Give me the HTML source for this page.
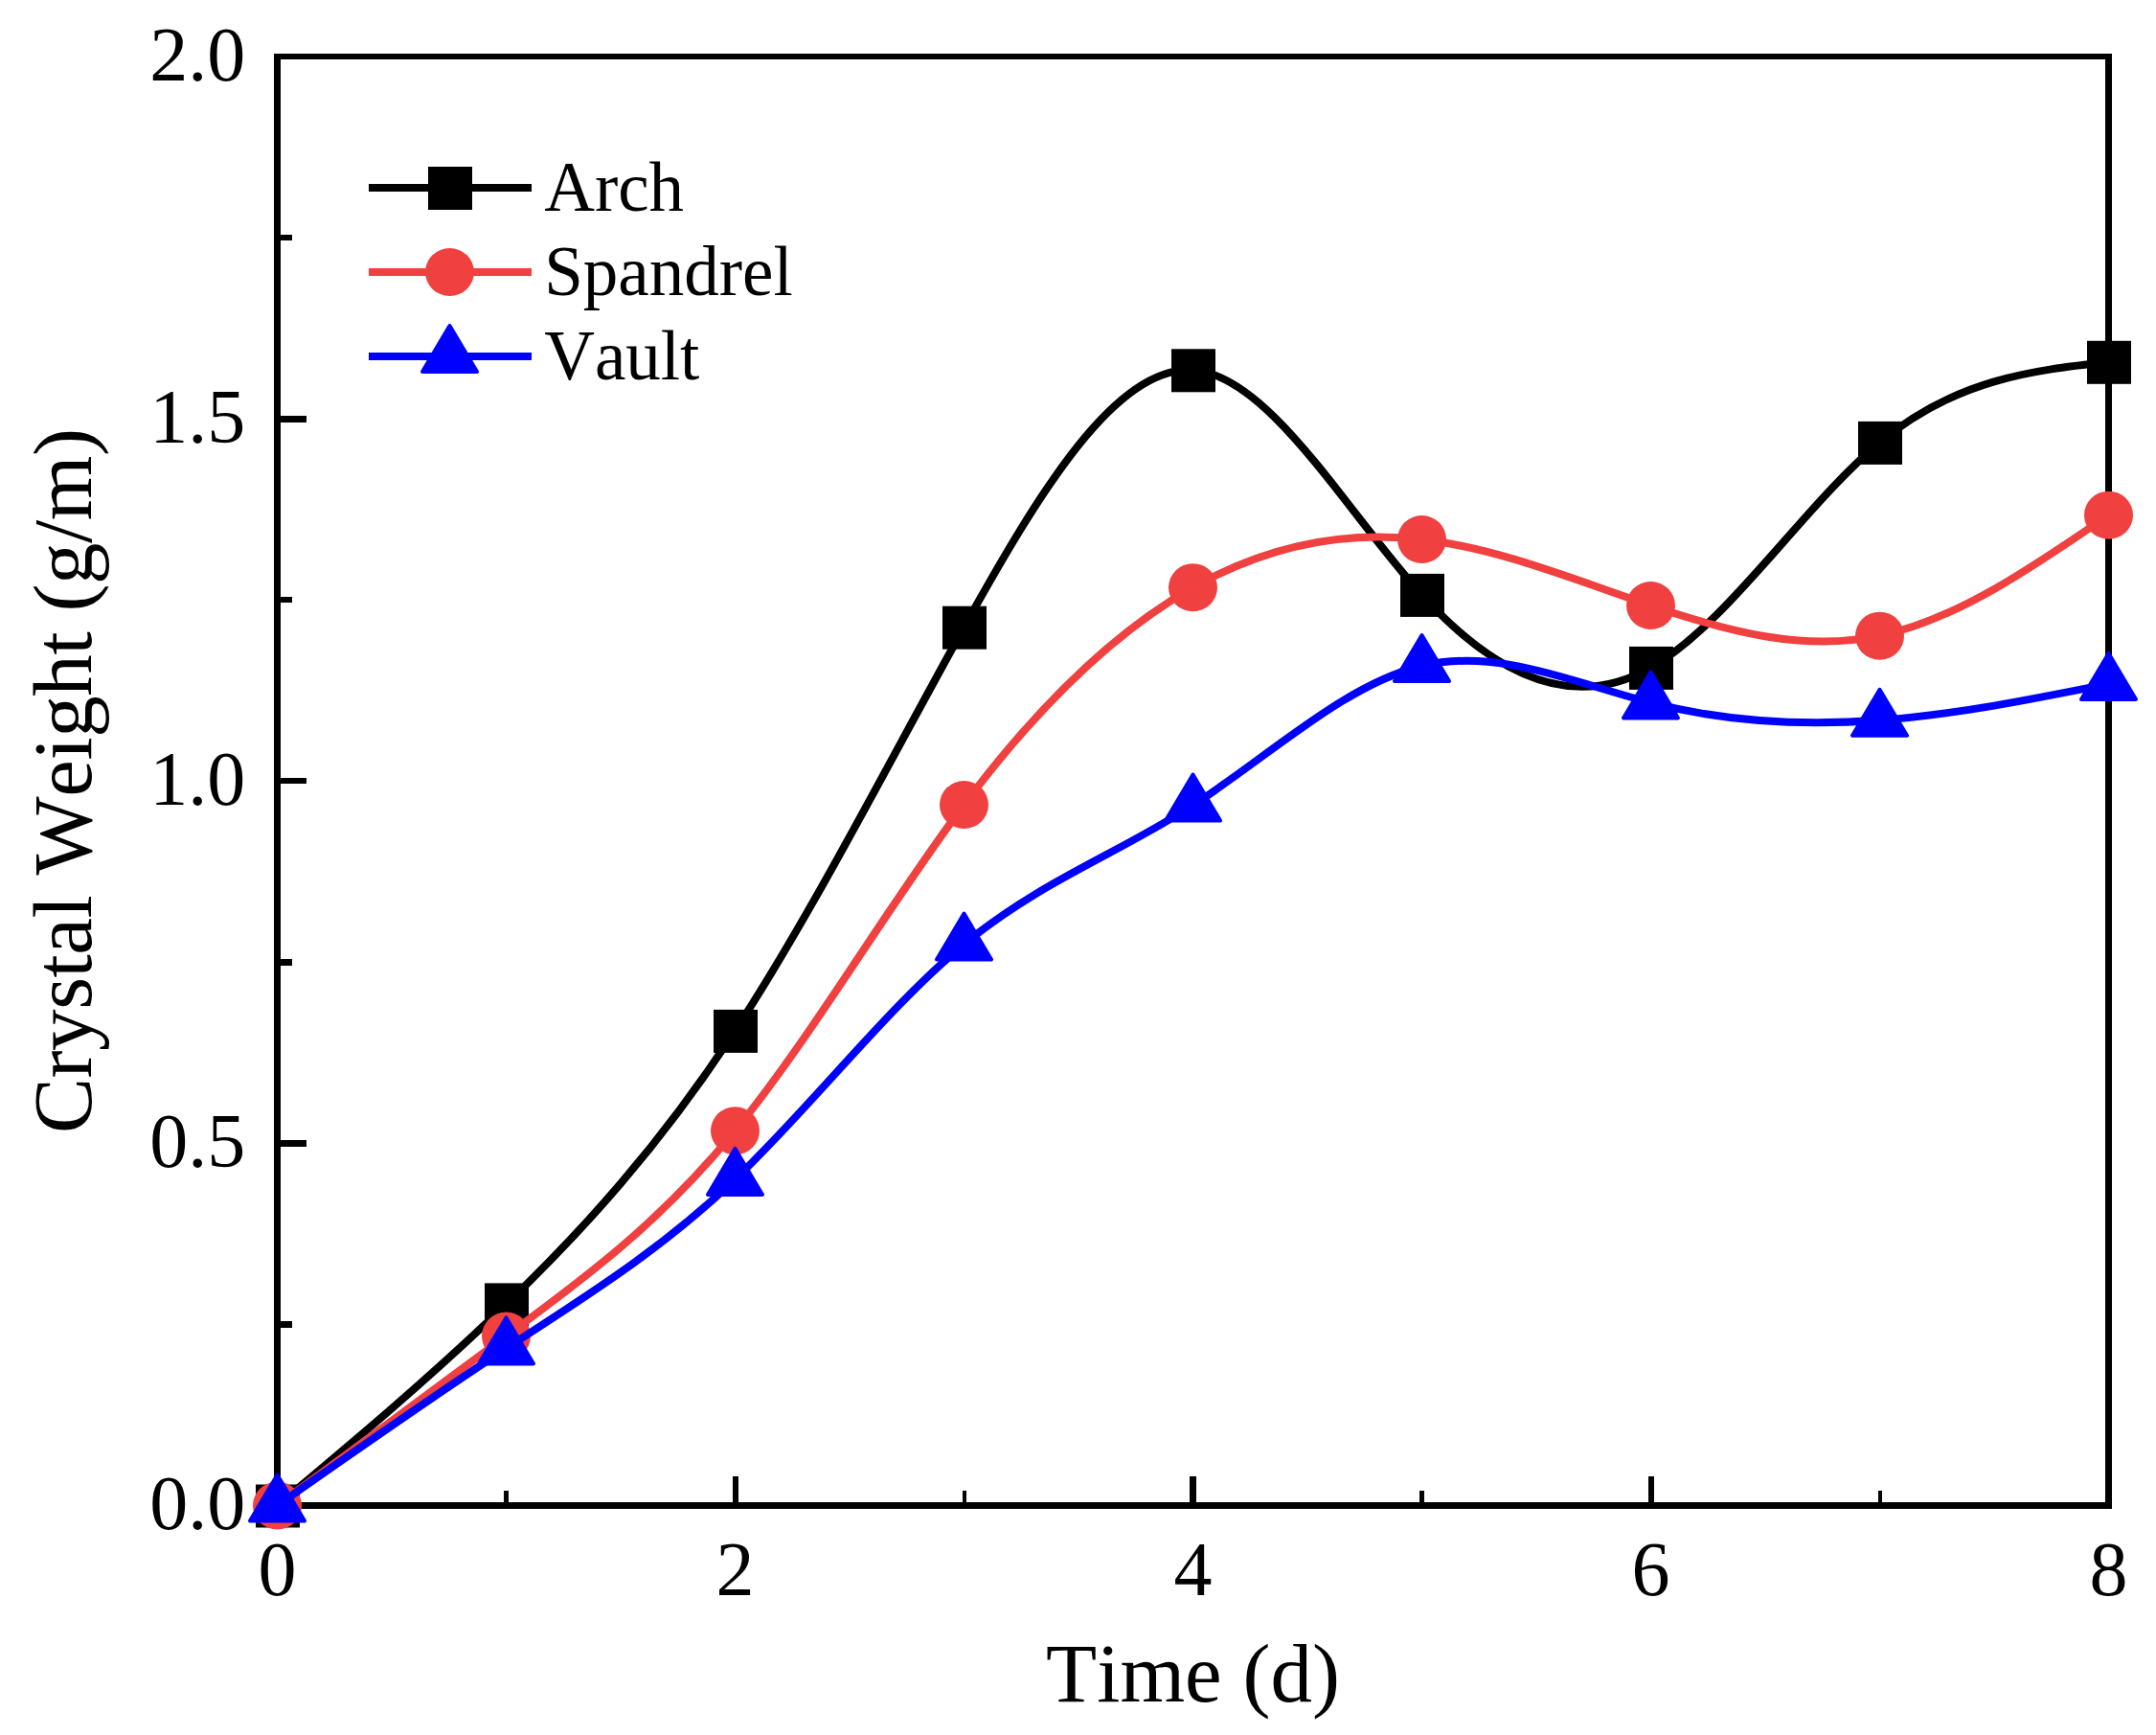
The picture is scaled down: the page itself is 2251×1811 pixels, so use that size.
<!DOCTYPE html>
<html lang="en"><head><meta charset="utf-8"><title>Crystal Weight vs Time</title>
<style>html,body{margin:0;padding:0;background:#fff}body{width:2251px;height:1811px;overflow:hidden}svg{display:block}text{font-kerning:none;font-family:"Liberation Serif",serif;fill:#000}</style></head><body>
<svg width="2251" height="1811" viewBox="0 0 2251 1811">
<rect width="2251" height="1811" fill="#fff"/>
<g fill="#000" shape-rendering="crispEdges">
<rect x="286" y="56" width="7" height="1519"/>
<rect x="2198" y="56" width="7" height="1519"/>
<rect x="286" y="56" width="1919" height="6"/>
<rect x="286" y="1568" width="1919" height="7"/>
<rect x="293" y="434" width="27" height="7"/>
<rect x="293" y="812" width="27" height="6"/>
<rect x="293" y="1190" width="27" height="7"/>
<rect x="293" y="245" width="12" height="6"/>
<rect x="293" y="623" width="12" height="6"/>
<rect x="293" y="1001" width="12" height="7"/>
<rect x="293" y="1379" width="12" height="7"/>
<rect x="765" y="1541" width="6" height="27"/>
<rect x="1242" y="1541" width="7" height="27"/>
<rect x="1721" y="1541" width="6" height="27"/>
<rect x="526" y="1556" width="5" height="12"/>
<rect x="1005" y="1556" width="4" height="12"/>
<rect x="1482" y="1556" width="5" height="12"/>
<rect x="1961" y="1556" width="4" height="12"/>
</g>
<g font-size="80px" text-anchor="end">
<text x="256.3" y="1595.5">0.0</text>
<text x="256.3" y="1217.5">0.5</text>
<text x="256.3" y="839.5">1.0</text>
<text x="256.3" y="461.5">1.5</text>
<text x="256.3" y="83.5">2.0</text>
</g>
<g font-size="80px" text-anchor="middle">
<text x="289.5" y="1665.2">0</text>
<text x="767.5" y="1665.2">2</text>
<text x="1245.5" y="1665.2">4</text>
<text x="1723.5" y="1665.2">6</text>
<text x="2201.5" y="1665.2">8</text>
</g>
<text x="1245.5" y="1776" font-size="87px" text-anchor="middle">Time (d)</text>
<text transform="translate(94.5 815) rotate(-90)" font-size="87px" text-anchor="middle" textLength="736.2" lengthAdjust="spacing">Crystal Weight (g/m)</text>
<path d="M289.5 1571.5C369.17 1504.87 448.83 1438.24 528.5 1361.4C608.17 1284.56 687.83 1197.52 767.5 1075.9C847.17 954.28 926.83 798.07 1006.5 654.7C1086.17 511.33 1165.83 380.79 1245.5 386.3C1325.17 391.81 1404.83 533.36 1484.5 620.9C1564.17 708.44 1643.83 741.96 1723.5 696.9C1803.17 651.84 1882.83 528.18 1962.5 461.9C2042.17 395.62 2121.83 386.71 2201.5 377.8" fill="none" stroke="#000000" stroke-width="8" stroke-linecap="butt" stroke-linejoin="round"/>
<g><rect x="267" y="1549.5" width="46" height="45" fill="#000000"/><rect x="506" y="1339.4" width="46" height="45" fill="#000000"/><rect x="745" y="1053.9" width="46" height="45" fill="#000000"/><rect x="984" y="632.7" width="46" height="45" fill="#000000"/><rect x="1223" y="364.3" width="46" height="45" fill="#000000"/><rect x="1462" y="598.9" width="46" height="45" fill="#000000"/><rect x="1701" y="674.9" width="46" height="45" fill="#000000"/><rect x="1940" y="439.9" width="46" height="45" fill="#000000"/><rect x="2179" y="355.8" width="46" height="45" fill="#000000"/></g>
<path d="M289.5 1571.5C369.17 1512.38 448.83 1453.26 528.5 1394.6C608.17 1335.94 687.83 1277.74 767.5 1180.3C847.17 1082.86 926.83 946.16 1006.5 840C1086.17 733.84 1165.83 658.21 1245.5 613.2C1325.17 568.19 1404.83 553.81 1484.5 563C1564.17 572.19 1643.83 604.96 1723.5 632C1803.17 659.04 1882.83 680.37 1962.5 663.7C2042.17 647.03 2121.83 592.37 2201.5 537.7" fill="none" stroke="#f04040" stroke-width="8" stroke-linecap="butt" stroke-linejoin="round"/>
<g><ellipse cx="289.5" cy="1571.5" rx="25.5" ry="25" fill="#f04040"/><ellipse cx="528.5" cy="1394.6" rx="25.5" ry="25" fill="#f04040"/><ellipse cx="767.5" cy="1180.3" rx="25.5" ry="25" fill="#f04040"/><ellipse cx="1006.5" cy="840" rx="25.5" ry="25" fill="#f04040"/><ellipse cx="1245.5" cy="613.2" rx="25.5" ry="25" fill="#f04040"/><ellipse cx="1484.5" cy="563" rx="25.5" ry="25" fill="#f04040"/><ellipse cx="1723.5" cy="632" rx="25.5" ry="25" fill="#f04040"/><ellipse cx="1962.5" cy="663.7" rx="25.5" ry="25" fill="#f04040"/><ellipse cx="2201.5" cy="537.7" rx="25.5" ry="25" fill="#f04040"/></g>
<path d="M289.5 1571.5C369.17 1515.53 448.83 1459.56 528.5 1407.4C608.17 1355.24 687.83 1306.87 767.5 1230.9C847.17 1154.93 926.83 1051.34 1006.5 985.6C1086.17 919.86 1165.83 891.96 1245.5 840.5C1325.17 789.04 1404.83 714.02 1484.5 695C1564.17 675.98 1643.83 712.94 1723.5 733.4C1803.17 753.86 1882.83 757.8 1962.5 751.8C2042.17 745.8 2121.83 729.85 2201.5 713.9" fill="none" stroke="#0000ff" stroke-width="8" stroke-linecap="butt" stroke-linejoin="round"/>
<g><polygon points="289.5,1539.5 318,1587.5 261,1587.5" fill="#0000ff" stroke="#0000ff" stroke-width="4" stroke-linejoin="round"/><polygon points="528.5,1375.4 557,1423.4 500,1423.4" fill="#0000ff" stroke="#0000ff" stroke-width="4" stroke-linejoin="round"/><polygon points="767.5,1198.9 796,1246.9 739,1246.9" fill="#0000ff" stroke="#0000ff" stroke-width="4" stroke-linejoin="round"/><polygon points="1006.5,953.6 1035,1001.6 978,1001.6" fill="#0000ff" stroke="#0000ff" stroke-width="4" stroke-linejoin="round"/><polygon points="1245.5,808.5 1274,856.5 1217,856.5" fill="#0000ff" stroke="#0000ff" stroke-width="4" stroke-linejoin="round"/><polygon points="1484.5,663 1513,711 1456,711" fill="#0000ff" stroke="#0000ff" stroke-width="4" stroke-linejoin="round"/><polygon points="1723.5,701.4 1752,749.4 1695,749.4" fill="#0000ff" stroke="#0000ff" stroke-width="4" stroke-linejoin="round"/><polygon points="1962.5,719.8 1991,767.8 1934,767.8" fill="#0000ff" stroke="#0000ff" stroke-width="4" stroke-linejoin="round"/><polygon points="2201.5,681.9 2230,729.9 2173,729.9" fill="#0000ff" stroke="#0000ff" stroke-width="4" stroke-linejoin="round"/></g>
<rect x="385" y="192" width="170" height="8" fill="#000000"/>
<rect x="447" y="174" width="46" height="45" fill="#000000"/>
<text x="568.2" y="219.7" font-size="73px">Arch</text>
<rect x="385" y="280" width="170" height="8" fill="#f04040"/>
<ellipse cx="469.5" cy="284" rx="25.5" ry="25" fill="#f04040"/>
<text x="568.2" y="307.7" font-size="73px">Spandrel</text>
<rect x="385" y="368" width="170" height="8" fill="#0000ff"/>
<polygon points="469.5,340 498,388 441,388" fill="#0000ff" stroke="#0000ff" stroke-width="4" stroke-linejoin="round"/>
<text x="568.2" y="395.7" font-size="73px">Vault</text>
</svg></body></html>
